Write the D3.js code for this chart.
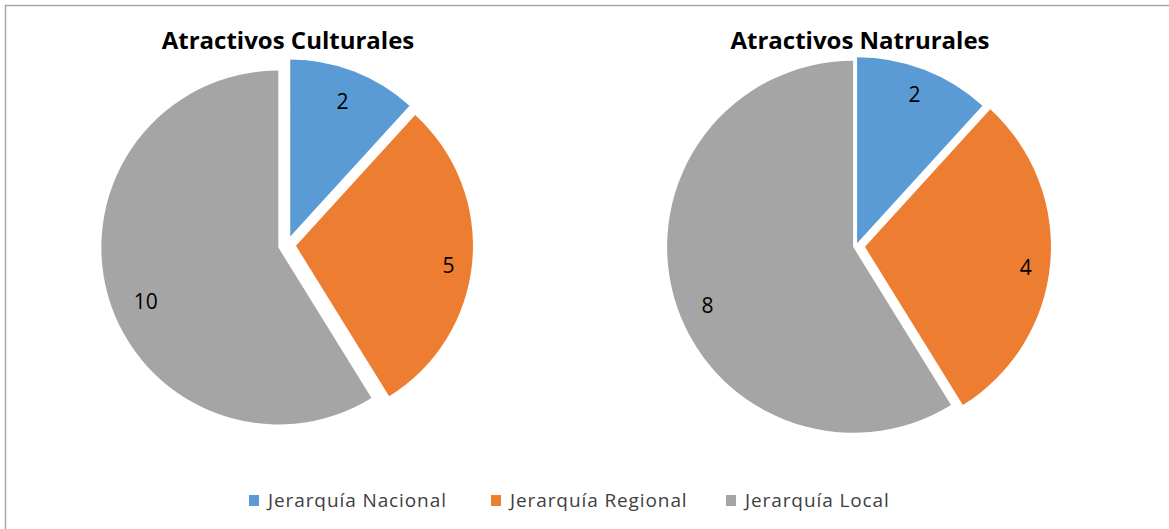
<!DOCTYPE html>
<html>
<head>
<meta charset="utf-8">
<script src="https://cdn.jsdelivr.net/npm/d3@7"></script>
<style>
  body { margin: 0; background: #fff; }
  svg { display: block; }
  text { font-family: "Open Sans", sans-serif; }
</style>
</head>
<body>
<svg id="chart" width="1169" height="529"></svg>
<script>
// data
const categories = ["Jerarquía Nacional", "Jerarquía Regional", "Jerarquía Local"];
const titles = ["Atractivos Culturales", "Atractivos Natrurales"];
const culturales = [2, 5, 10];
const naturales = [2, 4, 8];
// the original right pie was drawn with the same slice sizes as the left one
const naturalesSlices = [2, 5, 10];

const colors = d3.scaleOrdinal()
  .domain(categories)
  .range(["#5B9BD5", "#ED7D31", "#A5A5A5"]);

const svg = d3.select("svg#chart");

// frame (only top and left show in the window)
svg.append("line").attr("x1", 5).attr("y1", 5.5).attr("x2", 1169).attr("y2", 5.5)
  .attr("stroke", "#a6a6a6").attr("stroke-width", 1.5);
svg.append("line").attr("x1", 5.5).attr("y1", 5).attr("x2", 5.5).attr("y2", 529)
  .attr("stroke", "#a6a6a6").attr("stroke-width", 1.5);

// layout of the two pies
const pies = [
  { title: titles[0], labels: culturales, slices: culturales, cx: 287, cy: 245, r: 177, explode: [9, 9, 9], titleX: 288 },
  { title: titles[1], labels: naturales, slices: naturalesSlices, cx: 856, cy: 246, r: 186, explode: [3, 9, 3], titleX: 860 }
];
// label placement: radius factor and small angle turn (degrees) per slice
const labelRadius = [0.87, 0.92, 0.86];
const labelTurn = [0, 2, -6];

const pie = d3.pie().sort(null).value(d => d.value);

pies.forEach(function(p) {
  const data = pie(p.slices.map((v, i) => ({ name: categories[i], value: v, label: p.labels[i] })));
  const arc = d3.arc().innerRadius(0).outerRadius(p.r);

  const g = svg.append("g").attr("transform", translate(p.cx, p.cy));

  g.selectAll("path.slice")
    .data(data)
    .enter()
    .append("path")
    .attr("class", "slice")
    .attr("transform", function(d, i) {
      const mid = (d.startAngle + d.endAngle) / 2;
      const e = p.explode[i];
      return translate(Math.sin(mid) * e, -Math.cos(mid) * e);
    })
    .attr("d", arc)
    .attr("fill", d => colors(d.data.name));

  const labelAngle = (d, i) => (d.startAngle + d.endAngle) / 2 + labelTurn[i] * Math.PI / 180;

  g.selectAll("text.value")
    .data(data)
    .enter()
    .append("text")
    .attr("class", "value")
    .attr("x", (d, i) => Math.sin(labelAngle(d, i)) * p.r * labelRadius[i])
    .attr("y", (d, i) => -Math.cos(labelAngle(d, i)) * p.r * labelRadius[i])
    .attr("dy", "0.35em")
    .attr("text-anchor", "middle")
    .attr("font-size", 21)
    .attr("fill", "#000")
    .text(d => d.data.label);

  svg.append("text")
    .attr("x", p.titleX)
    .attr("y", 49)
    .attr("text-anchor", "middle")
    .attr("font-size", 24)
    .attr("font-weight", "bold")
    .attr("fill", "#000")
    .text(p.title);
});

// legend
const legendX = [249, 491, 726];
const legend = svg.append("g").attr("class", "legend");
const items = legend.selectAll("g")
  .data(categories)
  .enter()
  .append("g")
  .attr("transform", (d, i) => translate(legendX[i], 495));

items.append("rect")
  .attr("width", 10)
  .attr("height", 11)
  .attr("fill", d => colors(d));

items.append("text")
  .attr("x", 19)
  .attr("y", 12)
  .attr("font-size", 19)
  .attr("letter-spacing", 0.9)
  .attr("fill", "#404040")
  .text(d => d);

function translate(x, y) {
  return "translate(" + String(x) + "," + String(y) + ")";
}
</script>
</body>
</html>
